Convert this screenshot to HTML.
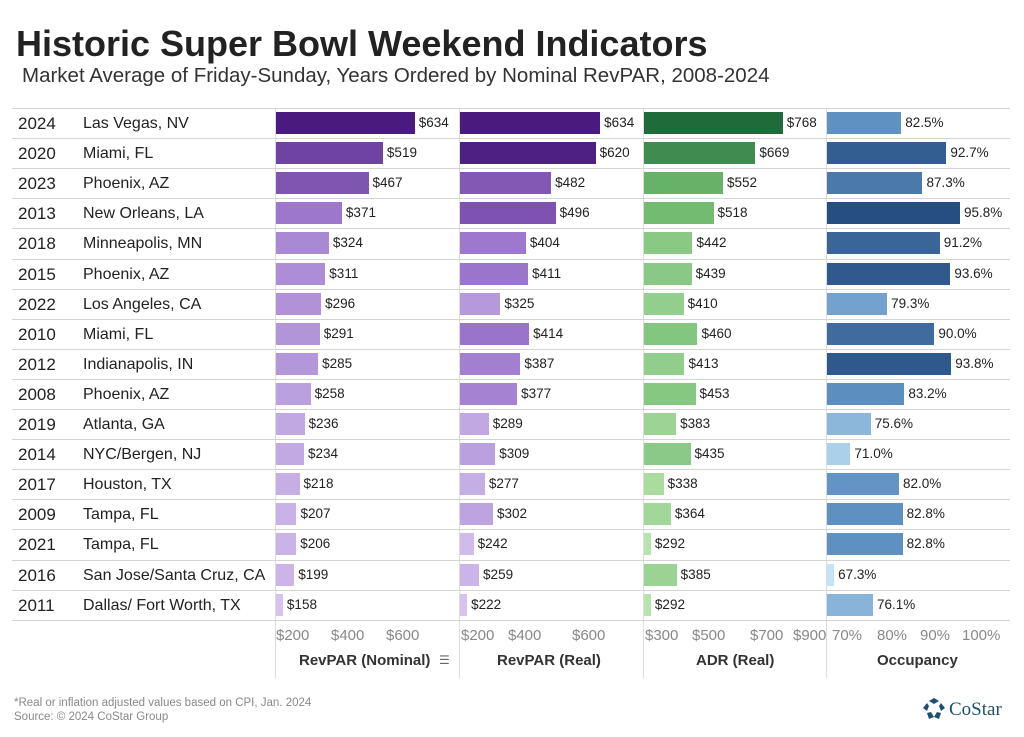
<!DOCTYPE html><html><head><meta charset="utf-8"><style>
body{margin:0;width:1024px;height:737px;background:#fff;font-family:"Liberation Sans",Arial,sans-serif;position:relative;overflow:hidden}
.a{position:absolute;white-space:nowrap}
</style></head><body>
<div class="a" style="left:16px;top:23px;font-size:36px;font-weight:bold;color:#222">Historic Super Bowl Weekend Indicators</div>
<div class="a" style="left:22px;top:64px;font-size:20.5px;color:#333">Market Average of Friday-Sunday, Years Ordered by Nominal RevPAR, 2008-2024</div>
<div id="c"></div>
<div class="a" style="left:14px;top:697px;font-size:11.5px;color:#888">*Real or inflation adjusted values based on CPI, Jan. 2024</div>
<div class="a" style="left:14px;top:711px;font-size:11.5px;color:#888">Source: © 2024 CoStar Group</div>
<svg class="a" style="left:922px;top:697px" width="24" height="24" viewBox="0 0 24 24"><g fill="#1d4f6e"><polygon points="12,1 17,4 12,7 7,4"/><polygon points="19,6 23,11 19,14 17,9"/><polygon points="19,16 17,22 12,20 15,15"/><polygon points="5,16 9,15 12,20 7,22"/><polygon points="5,6 7,9 5,14 1,11"/></g></svg>
<div class="a" style="left:949px;top:699px;font-size:19px;font-family:'Liberation Serif',serif;color:#1d4f6e">CoStar</div>
<script>
const d=[["2024","Las Vegas, NV",634,634,768,82.5],["2020","Miami, FL",519,620,669,92.7],["2023","Phoenix, AZ",467,482,552,87.3],["2013","New Orleans, LA",371,496,518,95.8],["2018","Minneapolis, MN",324,404,442,91.2],["2015","Phoenix, AZ",311,411,439,93.6],["2022","Los Angeles, CA",296,325,410,79.3],["2010","Miami, FL",291,414,460,90.0],["2012","Indianapolis, IN",285,387,413,93.8],["2008","Phoenix, AZ",258,377,453,83.2],["2019","Atlanta, GA",236,289,383,75.6],["2014","NYC/Bergen, NJ",234,309,435,71.0],["2017","Houston, TX",218,277,338,82.0],["2009","Tampa, FL",207,302,364,82.8],["2021","Tampa, FL",206,242,292,82.8],["2016","San Jose/Santa Cruz, CA",199,259,385,67.3],["2011","Dallas/ Fort Worth, TX",158,222,292,76.1]];
const cols=[{x:276,v0:133,k:.277,lo:158,hi:634,c1:[214,196,239],cm:[150,110,200],c2:[74,26,127],f:v=>"$"+v},
{x:460,v0:200,k:.323,lo:222,hi:634,c1:[214,196,239],cm:[150,110,200],c2:[74,26,127],f:v=>"$"+v},
{x:644,v0:267,k:.277,lo:292,hi:768,c1:[183,228,170],cm:[110,185,110],c2:[31,107,58],f:v=>"$"+v},
{x:827,v0:65.7,k:4.42,lo:67.3,hi:95.8,c1:[196,228,245],cm:[100,150,200],c2:[38,78,130],f:v=>v.toFixed(1)+"%"}];
function mix(a,b,t){return a.map((x,n)=>Math.round(x+(b[n]-x)*t));}
let h="";const T=108,R=30.1;
[275,459,643,826].forEach(x=>h+=`<div class="a" style="left:${x}px;top:108px;width:1px;height:570px;background:#ddd"></div>`);
for(let i=0;i<=17;i++)h+=`<div class="a" style="left:12px;top:${T+i*R}px;width:998px;height:1px;background:#d4d4d4"></div>`;
d.forEach((r,i)=>{const y=T+i*R;
h+=`<div class="a" style="left:18px;top:${y+6}px;font-size:17px;color:#222">${r[0]}</div><div class="a" style="left:83px;top:${y+7}px;font-size:16px;color:#222">${r[1]}</div>`;
cols.forEach((c,j)=>{const v=r[2+j],w=(v-c.v0)*c.k,t=(v-c.lo)/(c.hi-c.lo),col=t<.5?mix(c.c1,c.cm,t*2):mix(c.cm,c.c2,(t-.5)*2);
h+=`<div class="a" style="left:${c.x}px;top:${y+4}px;width:${w}px;height:22px;background:rgb(${col})"></div><div class="a" style="left:${c.x+w+4}px;top:${y+7}px;font-size:13.5px;color:#222">${c.f(v)}</div>`;});});
const ax=[[[276,"$200"],[331,"$400"],[386,"$600"]],[[461,"$200"],[508,"$400"],[572,"$600"]],[[645,"$300"],[692,"$500"],[750,"$700"],[793,"$900"]],[[832,"70%"],[877,"80%"],[920,"90%"],[962,"100%"]]];
ax.forEach(a=>a.forEach(([x,s])=>h+=`<div class="a" style="left:${x}px;top:627px;font-size:15px;color:#888">${s}</div>`));
[["RevPAR (Nominal) ",299],["RevPAR (Real)",497],["ADR (Real)",696],["Occupancy",877]].forEach(([s,x])=>h+=`<div class="a" style="left:${x}px;top:652px;font-size:15px;font-weight:bold;color:#333">${s}</div>`);
h+=`<div class="a" style="left:439px;top:653px;font-size:12px;color:#666">☰</div>`;
document.getElementById("c").innerHTML=h;
</script></body></html>
